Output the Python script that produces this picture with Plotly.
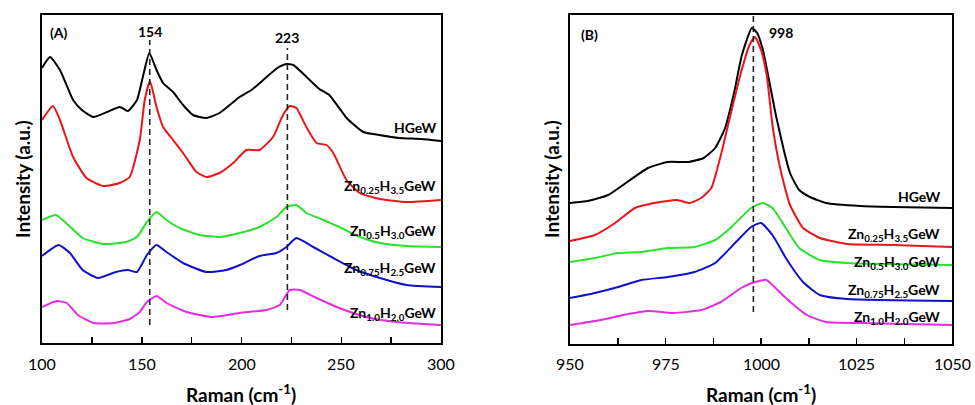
import plotly.graph_objects as go

# Panel A: low-frequency region (100-300 cm-1)
xa_hgew = [100, 104, 109, 115.6, 120, 125.6, 132.6, 139, 143, 147.6, 151, 153.8, 157.4, 160.7, 165.7, 170.7,
           175.7, 182.4, 189, 199, 205, 212, 218, 222.5, 226, 232.6, 239, 244, 252.7, 261, 269, 279, 290, 300]
ya_hgew = [275, 286, 273, 243, 233, 226, 231, 236, 232, 243, 270, 290, 273, 260, 251, 238,
           228, 225, 230, 246, 253, 265, 275, 279, 278, 266, 254, 248, 225, 211, 208, 205, 204, 202]

xa_zn025 = [100, 105.5, 109, 115.6, 122.3, 130.6, 139, 144, 149, 151.5, 154.1, 157.4, 160.7, 165.7, 170.7, 177.4,
            182.4, 189, 195.8, 202.5, 209, 215.8, 220.8, 224.2, 227.5, 232.5, 237.6, 242.6, 246, 252.6, 259.3,
            269.4, 282.7, 300]
ya_zn025 = [223, 237, 223, 186, 165, 157, 160, 166, 203, 243, 262, 236, 216, 203, 190, 171,
            166, 170, 180, 193, 193, 206, 228, 237, 235, 216, 200, 198, 190, 163, 150,
            144, 141, 143]

xa_zn05 = [100, 107, 112, 120.4, 130.6, 142, 147.6, 152.6, 157.4, 162.4, 169, 179, 189, 199, 209, 217.5,
           222.5, 227.5, 232.5, 241, 249, 259.3, 269.4, 282.7, 300]
ya_zn05 = [123, 128, 120, 105, 99, 101, 106, 121, 131, 123, 115, 108, 106, 110, 116, 126,
           136, 138, 130, 123, 116, 106, 100, 97, 96]

xa_zn075 = [100, 108.3, 114, 120.4, 128, 137, 143, 147.6, 152.6, 157.4, 162.4, 170.7, 182.4, 192.4, 199.2,
            209, 217.5, 222.5, 227.5, 236, 246, 257.6, 269.4, 282.7, 300]
ya_zn075 = [87, 98, 90, 73, 65, 71, 73, 71, 88, 98, 91, 80, 71, 73, 78,
            87, 90, 96, 105, 96, 85, 73, 65, 58, 56]

xa_zn10 = [100, 107.4, 112.4, 118, 126, 136, 144, 149, 152.6, 157.4, 162.4, 172.4, 185.7, 199, 212.5,
           219.2, 224.2, 229.2, 237.6, 249, 262.6, 277.6, 300]
ya_zn10 = [36, 42, 40, 28, 20, 20, 24, 31, 41, 47, 40, 31, 26, 30, 33,
           38, 53, 53, 45, 35, 26, 21, 18]

# Panel B: W=O stretching region (950-1050 cm-1)
xb_hgew = [950, 954.7, 960, 965, 970.4, 975.6, 981, 985, 988, 990.6, 993, 995, 997.6, 999, 1000.5,
           1004, 1007.6, 1010, 1012.8, 1017, 1026, 1034.6, 1050]
yb_hgew = [141, 143, 149, 162, 176, 182, 182, 186, 196, 216, 252, 289, 316, 311, 294,
           227, 171, 154, 147, 141, 138, 137, 136]

xb_zn025 = [950, 956.5, 961.8, 967, 972, 978, 981.4, 984.3, 987, 989.5, 992, 994.8, 997, 998.4, 1000,
            1001.5, 1003, 1005, 1007.6, 1011, 1015.4, 1022.5, 1034.6, 1050]
yb_zn025 = [103, 109, 121, 136, 141, 144, 141, 146, 156, 189, 229, 272, 299, 307, 294,
            269, 219, 176, 139, 116, 106, 100, 99, 97]

xb_zn05 = [950, 956.5, 962.6, 968.7, 975.6, 982.6, 988, 992, 997.4, 1000.5, 1003, 1006.5, 1010, 1015.4,
           1022.5, 1050]
yb_zn05 = [82, 86, 91, 92, 96, 97, 104, 116, 136, 141, 136, 116, 96, 84, 81, 79]

xb_zn075 = [950, 956.5, 962.6, 968.7, 975.6, 982.6, 988, 993.2, 997.4, 1000, 1003, 1006.5, 1011, 1015.4,
            1022.5, 1050]
yb_zn075 = [46, 51, 57, 64, 67, 72, 81, 101, 117, 121, 109, 86, 62, 49, 45, 43]

xb_zn10 = [950, 958, 964, 970.4, 977, 984.3, 989.5, 994.8, 998.4, 1001.4, 1003, 1006.5, 1012, 1017, 1026, 1050]
yb_zn10 = [19, 24, 29, 33, 31, 34, 42, 56, 62, 64, 59, 46, 29, 22, 21, 19]

names = ["HGeW", "Zn<sub>0.25</sub>H<sub>3.5</sub>GeW", "Zn<sub>0.5</sub>H<sub>3.0</sub>GeW",
         "Zn<sub>0.75</sub>H<sub>2.5</sub>GeW", "Zn<sub>1.0</sub>H<sub>2.0</sub>GeW"]
colors = ["#000000", "#e8161b", "#2ee02e", "#1010c8", "#e22de2"]

label_y_a = [215, 156, 111, 75, 30]
label_y_b = [147, 109, 82, 54, 27]

ticks_a = [100, 150, 200, 250, 300]
minor_a = [125, 175, 225, 275]
ticks_b = [950, 975, 1000, 1025, 1050]
minor_b = [962.5, 987.5, 1012.5, 1037.5]

peaks_a = [154, 223]
peak_b = 998

FONT = "Lato"

series_a = [(xa_hgew, ya_hgew), (xa_zn025, ya_zn025), (xa_zn05, ya_zn05), (xa_zn075, ya_zn075), (xa_zn10, ya_zn10)]
series_b = [(xb_hgew, yb_hgew), (xb_zn025, yb_zn025), (xb_zn05, yb_zn05), (xb_zn075, yb_zn075), (xb_zn10, yb_zn10)]

fig = go.Figure()

for i, (x, y) in enumerate(series_a):
    fig.add_trace(go.Scatter(x=x, y=y, mode="lines", xaxis="x", yaxis="y",
                             line=dict(color=colors[i], width=2, shape="spline", smoothing=0.5),
                             showlegend=False, hoverinfo="skip"))
for i, (x, y) in enumerate(series_b):
    fig.add_trace(go.Scatter(x=x, y=y, mode="lines", xaxis="x2", yaxis="y2",
                             line=dict(color=colors[i], width=2, shape="spline", smoothing=0.5),
                             showlegend=False, hoverinfo="skip"))

# dashed peak markers
dash = dict(color="#222222", width=1.6, dash="6px,4px")
fig.add_shape(type="line", xref="x", yref="y", x0=peaks_a[0], x1=peaks_a[0], y0=18, y1=303, line=dash)
fig.add_shape(type="line", xref="x", yref="y", x0=peaks_a[1], x1=peaks_a[1], y0=33, y1=295, line=dash)
fig.add_shape(type="line", xref="x2", yref="y2", x0=peak_b, x1=peak_b, y0=32, y1=329, line=dash)

ann = []
bold = dict(family=FONT, size=14, color="black")
for i, n in enumerate(names):
    ann.append(dict(x=298.5, y=label_y_a[i], xref="x", yref="y", text="<b>" + n + "</b>",
                    showarrow=False, xanchor="right", yanchor="middle", font=bold))
    ann.append(dict(x=1047.5, y=label_y_b[i], xref="x2", yref="y2", text="<b>" + n + "</b>",
                    showarrow=False, xanchor="right", yanchor="middle", font=bold))

# tick labels placed a little below the axes (ticks point inward)
tick_font = dict(family=FONT, size=16, color="black")
for t in ticks_a:
    ann.append(dict(x=t, y=1 - 363 / 405, xref="x", yref="paper", text=str(t), showarrow=False,
                    xanchor="center", yanchor="middle", font=tick_font))
for t in ticks_b:
    ann.append(dict(x=t, y=1 - 363 / 405, xref="x2", yref="paper", text=str(t), showarrow=False,
                    xanchor="center", yanchor="middle", font=tick_font))

title_font = dict(family=FONT, size=19, color="black")
ann += [
    dict(x=103, y=310, xref="x", yref="y", text="<b>(A)</b>", showarrow=False, xanchor="left", font=bold),
    dict(x=952.3, y=309, xref="x2", yref="y2", text="<b>(B)</b>", showarrow=False, xanchor="left", font=bold),
    dict(x=peaks_a[0], y=311, xref="x", yref="y", text="<b>154</b>", showarrow=False, font=bold),
    dict(x=peaks_a[1], y=305, xref="x", yref="y", text="<b>223</b>", showarrow=False, font=bold),
    dict(x=1001.5, y=311, xref="x2", yref="y2", text="<b>998</b>", showarrow=False, xanchor="left", font=bold),
    # axis titles
    dict(x=241 / 975, y=1 - 393 / 405, xref="paper", yref="paper", text="<b>Raman (cm<sup>-1</sup>)</b>",
         showarrow=False, xanchor="center", yanchor="middle", font=title_font),
    dict(x=761 / 975, y=1 - 393 / 405, xref="paper", yref="paper", text="<b>Raman (cm<sup>-1</sup>)</b>",
         showarrow=False, xanchor="center", yanchor="middle", font=title_font),
    dict(x=22 / 975, y=1 - 179 / 405, xref="paper", yref="paper", text="<b>Intensity (a.u.)</b>",
         showarrow=False, textangle=-90, xanchor="center", yanchor="middle", font=title_font),
    dict(x=551 / 975, y=1 - 179 / 405, xref="paper", yref="paper", text="<b>Intensity (a.u.)</b>",
         showarrow=False, textangle=-90, xanchor="center", yanchor="middle", font=title_font),
]

tick_axis = dict(showline=True, linewidth=2, linecolor="black", mirror=True, ticks="inside", ticklen=6,
                 tickwidth=1.5, tickcolor="black", showgrid=False, zeroline=False, automargin=False,
                 showticklabels=False)
yaxis_common = dict(showline=True, linewidth=2, linecolor="black", mirror=True, ticks="", showticklabels=False,
                    showgrid=False, zeroline=False, automargin=False)

fig.update_layout(
    width=975, height=405,
    autosize=False,
    margin=dict(l=0, r=0, t=0, b=0, pad=0),
    paper_bgcolor="white", plot_bgcolor="white",
    xaxis=dict(domain=[42 / 975, 441 / 975], range=[100, 300], tickvals=ticks_a, anchor="y",
               minor=dict(ticks="inside", ticklen=6, tickwidth=1.5, tickcolor="black", tickvals=minor_a),
               **tick_axis),
    yaxis=dict(domain=[1 - 343 / 405, 1 - 15 / 405], range=[0, 328], anchor="x", **yaxis_common),
    xaxis2=dict(domain=[570 / 975, 952 / 975], range=[950, 1050], anchor="y2", tickvals=ticks_b,
                minor=dict(ticks="inside", ticklen=6, tickwidth=1.5, tickcolor="black", tickvals=minor_b),
                **tick_axis),
    yaxis2=dict(domain=[1 - 344 / 405, 1 - 15 / 405], range=[0, 329], anchor="x2", **yaxis_common),
    annotations=ann,
)

fig.write_html("out.html", post_script="document.body.style.margin='0';",
               config={"displayModeBar": False, "staticPlot": True})
